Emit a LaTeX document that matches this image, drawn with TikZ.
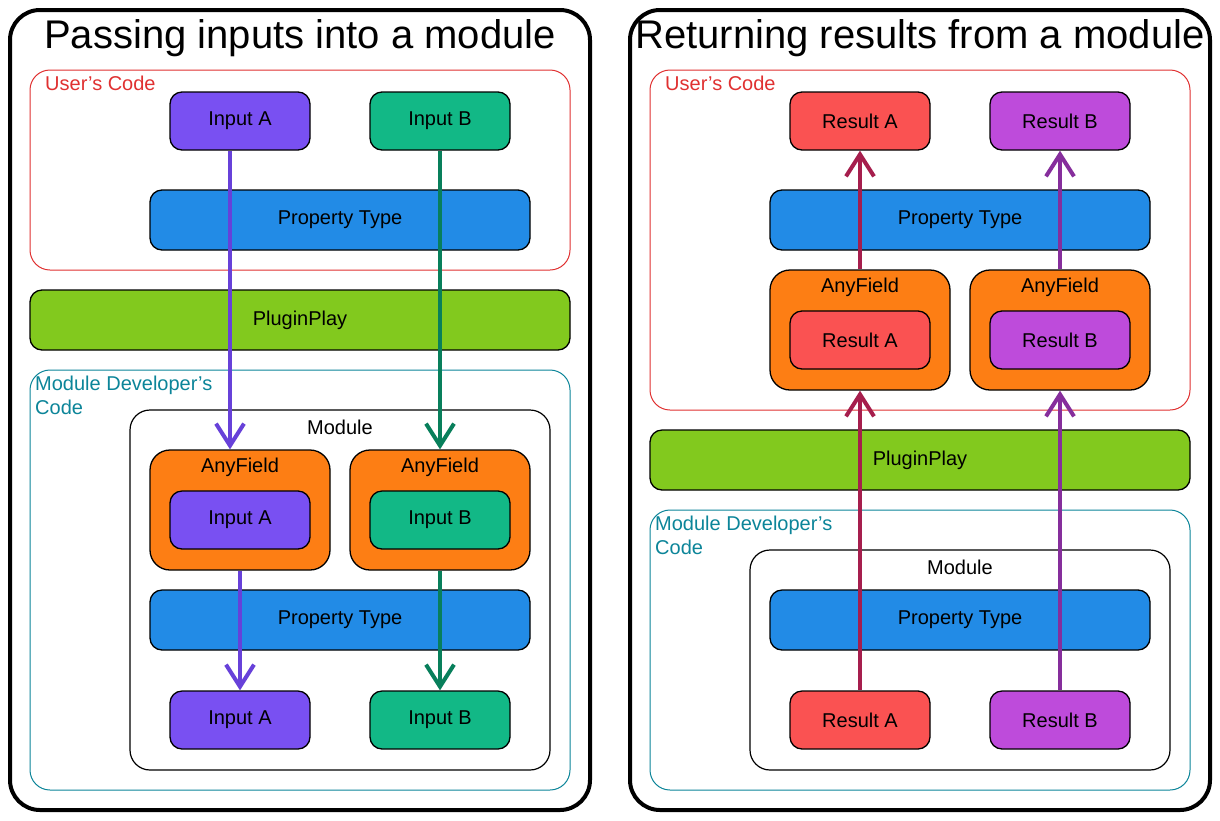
\documentclass[tikz,border=0pt]{standalone}
\usepackage{fontspec}
\setmainfont{Liberation Sans}
\usetikzlibrary{arrows.meta}
\definecolor{cPurple}{HTML}{7950F2}
\definecolor{cPurpleD}{HTML}{6741D9}
\definecolor{cGreen}{HTML}{12B886}
\definecolor{cGreenD}{HTML}{087F5B}
\definecolor{cBlue}{HTML}{228BE6}
\definecolor{cLime}{HTML}{82C91E}
\definecolor{cOrange}{HTML}{FD7E14}
\definecolor{cRed}{HTML}{FA5252}
\definecolor{cRedD}{HTML}{A61E4D}
\definecolor{cGrape}{HTML}{BE4BDB}
\definecolor{cGrapeD}{HTML}{862E9C}
\definecolor{cUser}{HTML}{E03131}
\definecolor{cTeal}{HTML}{0C8599}
\tikzset{
  outerbox/.style={draw=black, line width=4pt, rounded corners=30pt, minimum width=580pt, minimum height=800pt},
  userbox/.style={draw=cUser, line width=1pt, rounded corners=20pt},
  devbox/.style={draw=cTeal, line width=1pt, rounded corners=20pt},
  modbox/.style={draw=black, line width=1.2pt, rounded corners=20pt, minimum width=420pt},
  item/.style={draw=black, line width=1.3pt, rounded corners=12pt, minimum width=140pt, minimum height=58pt, font=\fontsize{20}{22}\selectfont},
  wide/.style={draw=black, line width=1.3pt, rounded corners=12pt, minimum width=380pt, minimum height=60pt, fill=cBlue, font=\fontsize{20}{22}\selectfont},
  plug/.style={draw=black, line width=1.3pt, rounded corners=12pt, minimum width=540pt, minimum height=60pt, fill=cLime, font=\fontsize{20}{22}\selectfont},
  afbox/.style={draw=black, line width=1.3pt, rounded corners=20pt, minimum width=180pt, minimum height=120pt, fill=cOrange},
  lbl/.style={font=\fontsize{20}{22}\selectfont, inner sep=0pt},
  grplbl/.style={font=\fontsize{20}{24}\selectfont, inner sep=0pt, anchor=north west, align=left},
  title/.style={font=\fontsize{40}{44}\selectfont, inner sep=0pt},
  flow/.style={line width=4pt, -{Straight Barb[length=22pt, width=28pt, line width=4pt]}},
}
\begin{document}
\begin{tikzpicture}[x=1pt, y=-1pt]
\useasboundingbox[fill=white] (0,0) rectangle (1220,820);

%%%%%%%%%%%%%%%% LEFT PANEL
\node[outerbox] (outL) at (300,410) {};
\node[title] (titleL) at (300,38) {Passing inputs into a module};

\node[userbox, minimum width=540pt, minimum height=200pt] (userL) at (300,170) {};
\node[grplbl, text=cUser] (userLlbl) at (45,76) {User's Code};

\node[item, fill=cPurple] (inA) at (240,121) {Input A};
\node[item, fill=cGreen] (inB) at (440,121) {Input B};
\node[wide] (ptL1) at (340,220) {Property Type};

\node[plug] (ppL) at (300,320) {PluginPlay};

\node[devbox, minimum width=540pt, minimum height=420pt] (devL) at (300,580) {};
\node[grplbl, text=cTeal] (devLlbl) at (35,376) {Module Developer's\\Code};

\node[modbox, minimum height=360pt] (modL) at (340,590) {};
\node[lbl] (modLlbl) at (340,427) {Module};

\node[afbox] (afA) at (240,510) {};
\node[lbl] (afAlbl) at (240,467) {AnyField};
\node[item, fill=cPurple] (afAin) at (240,520) {Input A};

\node[afbox] (afB) at (440,510) {};
\node[lbl] (afBlbl) at (440,467) {AnyField};
\node[item, fill=cGreen] (afBin) at (440,520) {Input B};

\node[wide] (ptL2) at (340,620) {Property Type};

\node[item, fill=cPurple] (outA) at (240,720) {Input A};
\node[item, fill=cGreen] (outB) at (440,720) {Input B};

\draw[flow, cPurpleD] ([xshift=-10pt]inA.south) -- ([xshift=-10pt]afA.north);
\draw[flow, cGreenD] (inB.south) -- (afB.north);
\draw[flow, cPurpleD] (afA.south) -- (outA.north);
\draw[flow, cGreenD] (afB.south) -- (outB.north);

%%%%%%%%%%%%%%%% RIGHT PANEL
\node[outerbox] (outR) at (920,410) {};
\node[title] (titleR) at (920,38) {Returning results from a module};

\node[userbox, minimum width=540pt, minimum height=340pt] (userR) at (920,240) {};
\node[grplbl, text=cUser] (userRlbl) at (665,76) {User's Code};

\node[item, fill=cRed] (resA) at (860,121) {Result A};
\node[item, fill=cGrape] (resB) at (1060,121) {Result B};
\node[wide] (ptR1) at (960,220) {Property Type};

\node[afbox] (afRA) at (860,330) {};
\node[lbl] (afRAlbl) at (860,287) {AnyField};
\node[item, fill=cRed] (afRAin) at (860,340) {Result A};

\node[afbox] (afRB) at (1060,330) {};
\node[lbl] (afRBlbl) at (1060,287) {AnyField};
\node[item, fill=cGrape] (afRBin) at (1060,340) {Result B};

\node[plug] (ppR) at (920,460) {PluginPlay};

\node[devbox, minimum width=540pt, minimum height=280pt] (devR) at (920,650) {};
\node[grplbl, text=cTeal] (devRlbl) at (655,516) {Module Developer's\\Code};

\node[modbox, minimum height=220pt] (modR) at (960,660) {};
\node[lbl] (modRlbl) at (960,567) {Module};

\node[wide] (ptR2) at (960,620) {Property Type};

\node[item, fill=cRed] (srcA) at (860,720) {Result A};
\node[item, fill=cGrape] (srcB) at (1060,720) {Result B};

\draw[flow, cRedD] (srcA.north) -- (afRA.south);
\draw[flow, cGrapeD] (srcB.north) -- (afRB.south);
\draw[flow, cRedD] (afRA.north) -- (resA.south);
\draw[flow, cGrapeD] (afRB.north) -- (resB.south);
\end{tikzpicture}
\end{document}
